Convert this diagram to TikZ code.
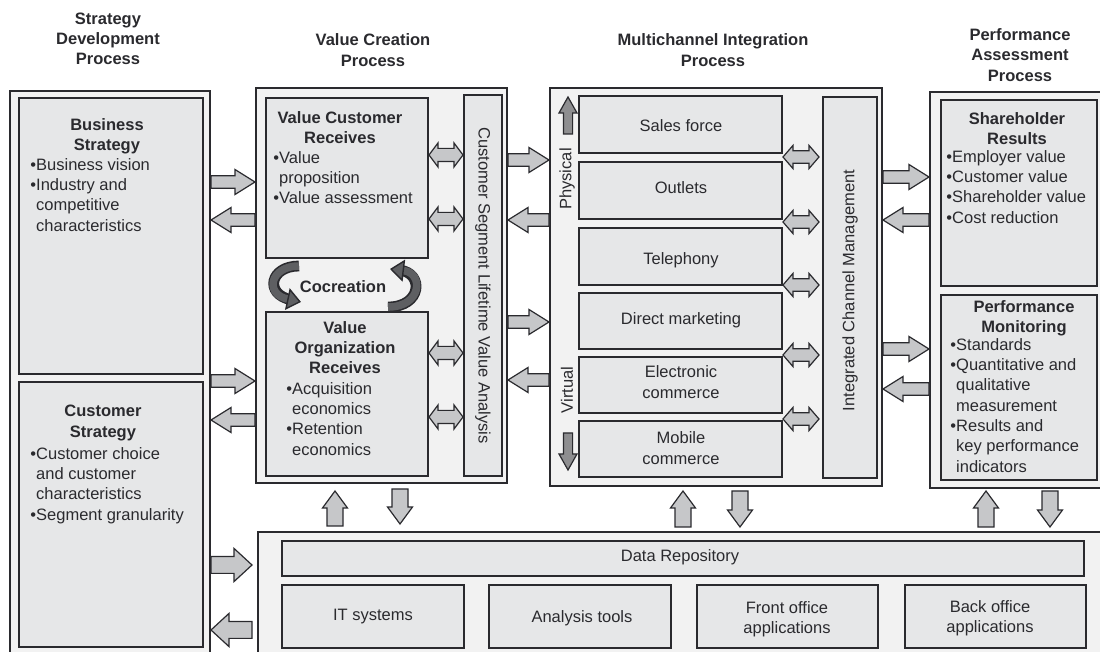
\documentclass[tikz,border=0pt]{standalone}
\usepackage{fontspec}
\setmainfont{Liberation Sans}
\usepackage{tikz}
\usetikzlibrary{arrows.meta,positioning,fit,calc}

\definecolor{ink}{HTML}{2A2A2E}
\definecolor{panel}{HTML}{F2F2F2}
\definecolor{cellfill}{HTML}{E6E7E8}
\definecolor{arrowfill}{HTML}{C6C7C9}
\definecolor{darkfill}{HTML}{8E8E90}
\definecolor{cofill}{HTML}{5E5F62}

\newcommand{\boxfont}{\fontsize{8.25}{10.15}\selectfont}
\newcommand{\ph}{\hphantom{•}}
\newcommand{\fatA}{3pt}
\newcommand{\fatB}{6pt}
\newcommand{\fatH}{10pt}

\tikzset{
  fatdims/.code args={#1/#2/#3}{\def\fatA{#1}\def\fatB{#2}\def\fatH{#3}},
  fat/.style={draw=ink, fill=arrowfill, line width=0.6pt, line join=miter,
    to path={let \p1=(\tikztostart), \p2=(\tikztotarget),
      \n1={veclen(\x2-\x1,\y2-\y1)}, \n2={(\x2-\x1)/\n1}, \n3={(\y2-\y1)/\n1} in
      ({\x1-\fatA*(\n3)},{\y1+\fatA*(\n2)})
      -- ({\x2-\fatH*(\n2)-\fatA*(\n3)},{\y2-\fatH*(\n3)+\fatA*(\n2)})
      -- ({\x2-\fatH*(\n2)-\fatB*(\n3)},{\y2-\fatH*(\n3)+\fatB*(\n2)})
      -- (\x2,\y2)
      -- ({\x2-\fatH*(\n2)+\fatB*(\n3)},{\y2-\fatH*(\n3)-\fatB*(\n2)})
      -- ({\x2-\fatH*(\n2)+\fatA*(\n3)},{\y2-\fatH*(\n3)-\fatA*(\n2)})
      -- ({\x1+\fatA*(\n3)},{\y1-\fatA*(\n2)}) -- cycle}},
  fatboth/.style={draw=ink, fill=arrowfill, line width=0.6pt, line join=miter,
    to path={let \p1=(\tikztostart), \p2=(\tikztotarget),
      \n1={veclen(\x2-\x1,\y2-\y1)}, \n2={(\x2-\x1)/\n1}, \n3={(\y2-\y1)/\n1} in
      (\x1,\y1)
      -- ({\x1+\fatH*(\n2)-\fatB*(\n3)},{\y1+\fatH*(\n3)+\fatB*(\n2)})
      -- ({\x1+\fatH*(\n2)-\fatA*(\n3)},{\y1+\fatH*(\n3)+\fatA*(\n2)})
      -- ({\x2-\fatH*(\n2)-\fatA*(\n3)},{\y2-\fatH*(\n3)+\fatA*(\n2)})
      -- ({\x2-\fatH*(\n2)-\fatB*(\n3)},{\y2-\fatH*(\n3)+\fatB*(\n2)})
      -- (\x2,\y2)
      -- ({\x2-\fatH*(\n2)+\fatB*(\n3)},{\y2-\fatH*(\n3)-\fatB*(\n2)})
      -- ({\x2-\fatH*(\n2)+\fatA*(\n3)},{\y2-\fatH*(\n3)-\fatA*(\n2)})
      -- ({\x1+\fatH*(\n2)+\fatA*(\n3)},{\y1+\fatH*(\n3)-\fatA*(\n2)})
      -- ({\x1+\fatH*(\n2)+\fatB*(\n3)},{\y1+\fatH*(\n3)-\fatB*(\n2)})
      -- cycle}}
}

\begin{document}
\begin{tikzpicture}[
      x=0.5pt, y=-0.5pt,
      frame/.style={draw=ink, fill=panel, line width=1pt, inner sep=0pt},
      cellbox/.style={draw=ink, fill=cellfill, line width=1pt, inner sep=0pt},
      inbox/.style={font=\boxfont, align=center, inner sep=0pt, text=ink},
      ttl/.style={font=\boxfont\bfseries, align=center, inner sep=0pt, anchor=north, text=ink},
      lst/.style={font=\boxfont, align=left, inner sep=0pt, anchor=north west, text=ink},
      head/.style={font=\boxfont\bfseries, align=center, inner sep=0pt, text=ink},
      rot/.style={font=\boxfont, inner sep=0pt, text=ink},
      hbig/.style={fat, fatdims={3.1pt/6.25pt/10pt}},
      hlarge/.style={fat, fatdims={4.2pt/8.3pt/9pt}},
      vbig/.style={fat, fatdims={4pt/6.25pt/8.5pt}},
      twin/.style={fatboth, fatdims={3.3pt/6pt/4.5pt}},
      twinmc/.style={fatboth, fatdims={3.1pt/5.8pt/5pt}},
      slide/.style={fat, fill=darkfill, fatdims={2.3pt/4.5pt/8pt}},
      coline/.style={draw=ink, line width=5.4pt},
      cofront/.style={draw=cofill, line width=3.8pt,
        -{Triangle[length=7pt, width=11pt, line width=0.7pt, color=ink, fill=cofill]}}
    ]
    \useasboundingbox (0,0) rectangle (1100,652);

    \node[head] (hSD) at (108,39) {Strategy\\Development\\Process};
    \node[head] (hVC) at (373,50) {Value Creation\\Process};
    \node[head] (hMI) at (713,50) {Multichannel Integration\\Process};
    \node[head] (hPA) at (1020,55) {Performance\\Assessment\\Process};

    \node[frame, fit={(10,91) (210,662)}] (sdp) {};
    \node[cellbox, fit={(19,98) (203,374)}] (bs) {};
    \node[cellbox, fit={(19,382) (203,647)}] (cs) {};
    \node[ttl] (bsT) at (107,118) {Business\\Strategy};
    \node[lst] (bsL) at (30,158) {•Business vision\\•Industry and\\\ph competitive\\\ph characteristics};
    \node[ttl] (csT) at (103,405) {Customer\\Strategy};
    \node[lst] (csL) at (30,447) {•Customer choice\\\ph and customer\\\ph characteristics\\•Segment granularity};

    \node[frame, fit={(256,88) (507,483)}] (vcp) {};
    \node[cellbox, fit={(266,98) (428,258)}] (vcr) {};
    \node[cellbox, fit={(266,312) (428,476)}] (vor) {};
    \node[cellbox, fit={(464,95) (502,476)}] (cslva) {};
    \node[rot, rotate=-90] (cslvaT) at (cslva.center) {Customer Segment Lifetime Value Analysis};
    \node[ttl] (vcrT) at (340,111) {Value Customer\\Receives};
    \node[lst] (vcrL) at (273,151) {•Value\\\ph proposition\\•Value assessment};
    \node[ttl] (vorT) at (345,321) {Value\\Organization\\Receives};
    \node[lst] (vorL) at (286,382) {•Acquisition\\\ph economics\\•Retention\\\ph economics};
    \node[head] (coT) at (343,287) {Cocreation};

    \node[frame, fit={(550,88) (882,486)}] (mcp) {};
    \node[cellbox, fit={(579,96) (782,153)}] (sales) {};
    \node[cellbox, fit={(579,162) (782,219)}] (outl) {};
    \node[cellbox, fit={(579,228) (782,285)}] (tele) {};
    \node[cellbox, fit={(579,293) (782,349)}] (dm) {};
    \node[cellbox, fit={(579,357) (782,413)}] (ecom) {};
    \node[cellbox, fit={(579,421) (782,477)}] (mcom) {};
    \node[inbox] (salesT) at (681,126) {Sales force};
    \node[inbox] (outlT) at (681,188) {Outlets};
    \node[inbox] (teleT) at (681,260) {Telephony};
    \node[inbox] (dmT) at (681,320) {Direct marketing};
    \node[inbox] (ecomT) at (681,382) {Electronic\\commerce};
    \node[inbox] (mcomT) at (681,448) {Mobile\\commerce};
    \node[cellbox, fit={(823,97) (877,478)}] (icm) {};
    \node[rot, rotate=90] (icmT) at ($(icm.center)+(0,3)$) {Integrated Channel Management};
    \node[rot, rotate=90] (phys) at (567,179) {Physical};
    \node[rot, rotate=90] (virt) at (567,390) {Virtual};

    \node[frame, fit={(930,92) (1106,488)}] (pap) {};
    \node[cellbox, fit={(941,100) (1097,286)}] (shr) {};
    \node[cellbox, fit={(941,295) (1097,480)}] (pm) {};
    \node[ttl] (shrT) at (1017,112) {Shareholder\\Results};
    \node[lst] (shrL) at (946,150) {•Employer value\\•Customer value\\•Shareholder value\\•Cost reduction};
    \node[ttl] (pmT) at (1024,300) {Performance\\Monitoring};
    \node[lst] (pmL) at (950,338) {•Standards\\•Quantitative and\\\ph qualitative\\\ph measurement\\•Results and\\\ph key performance\\\ph indicators};

    \node[frame, fit={(258,532) (1106,662)}] (bot) {};
    \node[cellbox, fit={(282,541) (1084,576)}] (repo) {};
    \node[cellbox, fit={(282,585) (464,648)}] (its) {};
    \node[cellbox, fit={(489,585) (671,648)}] (ana) {};
    \node[cellbox, fit={(697,585) (878,648)}] (fro) {};
    \node[cellbox, fit={(905,585) (1086,648)}] (bac) {};
    \node[inbox] (repoT) at (680,557) {Data Repository};
    \node[inbox] (itsT) at (373,617) {IT systems};
    \node[inbox] (anaT) at (582,618) {Analysis tools};
    \node[inbox] (froT) at (787,619) {Front office\\applications};
    \node[inbox] (bacT) at (990,618) {Back office\\applications};

    \draw[hbig] (sdp.east |- 0,182) to (vcp.west |- 0,182);
    \draw[hbig] (vcp.west |- 0,220) to (sdp.east |- 0,220);
    \draw[hbig] (sdp.east |- 0,381) to (vcp.west |- 0,381);
    \draw[hbig] (vcp.west |- 0,420) to (sdp.east |- 0,420);
    \draw[hbig] (vcp.east |- 0,160) to (mcp.west |- 0,160);
    \draw[hbig] (mcp.west |- 0,220) to (vcp.east |- 0,220);
    \draw[hbig] (vcp.east |- 0,322) to (mcp.west |- 0,322);
    \draw[hbig] (mcp.west |- 0,380) to (vcp.east |- 0,380);
    \draw[hbig] (mcp.east |- 0,177) to (pap.west |- 0,177);
    \draw[hbig] (pap.west |- 0,220) to (mcp.east |- 0,220);
    \draw[hbig] (mcp.east |- 0,349) to (pap.west |- 0,349);
    \draw[hbig] (pap.west |- 0,389) to (mcp.east |- 0,389);
    \draw[hlarge] (sdp.east |- 0,565) to ($(bot.west |- 0,565)+(-5,0)$);
    \draw[hlarge] ($(bot.west |- 0,630)+(-5,0)$) to (sdp.east |- 0,630);

    \draw[vbig] ($(bot.north -| 335,0)+(0,-5)$) to ($(vcp.south -| 335,0)+(0,7)$);
    \draw[vbig] ($(vcp.south -| 400,0)+(0,5)$) to ($(bot.north -| 400,0)+(0,-7)$);
    \draw[vbig] ($(bot.north -| 683,0)+(0,-4)$) to ($(mcp.south -| 683,0)+(0,4)$);
    \draw[vbig] ($(mcp.south -| 740,0)+(0,4)$) to ($(bot.north -| 740,0)+(0,-4)$);
    \draw[vbig] ($(bot.north -| 986,0)+(0,-4)$) to ($(pap.south -| 986,0)+(0,2)$);
    \draw[vbig] ($(pap.south -| 1050,0)+(0,2)$) to ($(bot.north -| 1050,0)+(0,-4)$);

    \draw[twin] (vcr.east |- 0,155) to (cslva.west |- 0,155);
    \draw[twin] (vcr.east |- 0,219) to (cslva.west |- 0,219);
    \draw[twin] (vor.east |- 0,353) to (cslva.west |- 0,353);
    \draw[twin] (vor.east |- 0,417) to (cslva.west |- 0,417);

    \draw[twinmc] (sales.east |- 0,157) to ($(icm.west |- 0,157)+(-3,0)$);
    \draw[twinmc] (outl.east |- 0,222) to ($(icm.west |- 0,222)+(-3,0)$);
    \draw[twinmc] (tele.east |- 0,285) to ($(icm.west |- 0,285)+(-3,0)$);
    \draw[twinmc] (dm.east |- 0,355) to ($(icm.west |- 0,355)+(-3,0)$);
    \draw[twinmc] (ecom.east |- 0,419) to ($(icm.west |- 0,419)+(-3,0)$);

    \coordinate (physA) at (568,134);
    \coordinate (physB) at (568,97);
    \coordinate (virtA) at (568,433);
    \coordinate (virtB) at (568,470);
    \draw[slide] (physA) to (physB);
    \draw[slide] (virtA) to (virtB);

    \coordinate (coL1) at (299,266);
    \coordinate (coL2) at (301,302);
    \coordinate (coR1) at (388,307);
    \coordinate (coR2) at (390,269);
    \draw[coline, shorten >=5pt] (coL1) .. controls (270,266) and (264,294) .. (coL2);
    \draw[cofront] (coL1) .. controls (270,266) and (264,294) .. (coL2);
    \draw[coline, shorten >=5pt] (coR1) .. controls (422,307) and (424,273) .. (coR2);
    \draw[cofront] (coR1) .. controls (422,307) and (424,273) .. (coR2);
  \end{tikzpicture}
\end{document}
